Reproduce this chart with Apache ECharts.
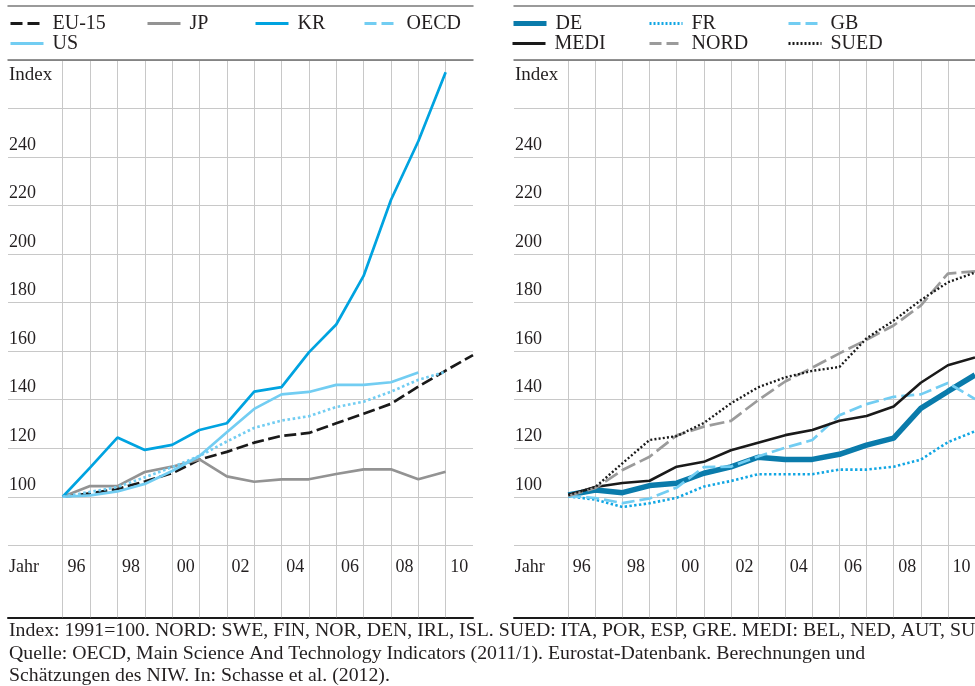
<!DOCTYPE html>
<html>
<head>
<meta charset="utf-8">
<script src="https://cdn.jsdelivr.net/npm/echarts@6/dist/echarts.min.js"></script>
<style>
html,body{margin:0;padding:0;background:#fff;}
#c{width:975px;height:686px;}
</style>
</head>
<body>
<div id="c"></div>
<script>
// ---- data ----
const years = [1995,1996,1997,1998,1999,2000,2001,2002,2003,2004,2005,2006,2007,2008,2009,2010];
const padYears = [1993,1994];
const cellLabels = [' Jahr','','96','','98','','00','','02','','04','','06','','08','','10'];
const yTickLabels = [100,120,140,160,180,200,220,240];

const EU15 = [100,101.4,103.2,106.3,109.7,115.3,118.5,122.3,125.1,126.3,130.3,134.2,138.3,145.4,152.0,158.4];
const JP   = [100,104.4,104.4,110.2,112.4,115.4,108.4,106.2,107.2,107.2,109.4,111.3,111.3,107.2,110.3,null];
const KR   = [100,112.0,124.4,119.3,121.4,127.5,130.3,143.3,145.2,159.5,171.0,191.0,222.3,246.5,275.0,null];
const OECD = [100,102.0,104.0,108.0,112.2,116.8,122.8,128.4,131.4,133.2,137.0,139.2,143.3,148.2,151.5,null];
const US   = [100,100.6,102.2,105.3,110.6,116.8,126.6,136.2,142.2,143.2,146.1,146.1,147.2,151.2,null,null];

const DE   = [100.7,102.8,101.7,104.6,105.6,109.7,112.3,116.3,115.4,115.4,117.5,121.3,124.2,136.4,143.4,150.2];
const FR   = [100.2,98.8,95.8,97.3,99.6,104.2,106.5,109.3,109.3,109.3,111.2,111.2,112.4,115.3,122.5,127.0];
const GB   = [100.3,99.5,97.4,99.3,103.8,112.2,112.4,116.6,120.2,123.4,133.6,138.2,141.2,142.2,146.9,140.3];
const MEDI = [100.7,104.0,105.7,106.6,112.4,114.4,119.2,122.3,125.4,127.5,131.3,133.3,137.2,147.0,154.2,157.4];
const NORD = [100.3,103.6,111.0,116.5,125.3,128.9,131.3,139.8,147.5,153.2,159.1,164.7,170.6,178.8,192.0,192.9];
const SUED = [100.7,104.0,113.8,123.4,125.0,130.4,138.5,145.1,149.2,151.9,153.5,165.3,172.6,181.0,188.4,192.4];

const footLines = [
  'Index: 1991=100. NORD: SWE, FIN, NOR, DEN, IRL, ISL. SUED: ITA, POR, ESP, GRE. MEDI: BEL, NED, AUT, SUI',
  'Quelle: OECD, Main Science And Technology Indicators (2011/1). Eurostat-Datenbank. Berechnungen und',
  'Schätzungen des NIW. In: Schasse et al. (2012).'
];

// ---- styles ----
const FONT = 'Liberation Serif';
const GRID_C = '#c8c8c8';
const TXT = '#231f20';
const axisCats = padYears.concat(years).map(String);
const showYear = (i, v) => (+v >= 1995 && +v <= 2009);

function xAxesFor(g) {
  return [
    { gridIndex: g, type: 'category', data: axisCats, boundaryGap: false, position: 'bottom',
      axisLine: {show: false}, axisLabel: {show: false},
      axisTick: {show: true, interval: showYear, length: 72, lineStyle: {color: GRID_C, width: 1}},
      splitLine: {show: true, interval: showYear, lineStyle: {color: GRID_C, width: 1}} },
    { gridIndex: g, type: 'category', boundaryGap: true, position: 'bottom', offset: 72,
      data: cellLabels,
      axisLine: {show: true, lineStyle: {color: '#1a1a1a', width: 2}},
      axisTick: {show: false}, splitLine: {show: false},
      axisLabel: {show: true, inside: true, interval: 0, margin: 50, verticalAlign: 'middle',
        fontFamily: FONT, fontSize: 18, color: TXT} },
    { gridIndex: g, type: 'category', data: axisCats, position: 'top', offset: 0,
      axisLine: {show: true, lineStyle: {color: '#6e6e6e', width: 1.5}},
      axisTick: {show: false}, axisLabel: {show: false}, splitLine: {show: false} },
    { gridIndex: g, type: 'category', data: axisCats, position: 'top', offset: 54.3,
      axisLine: {show: true, lineStyle: {color: '#7a7a7a', width: 1.5}},
      axisTick: {show: false}, axisLabel: {show: false}, splitLine: {show: false} }
  ];
}

function yAxisFor(g) {
  return { gridIndex: g, type: 'value', min: 80, max: 280, interval: 20,
    axisLine: {show: false}, axisTick: {show: false},
    splitLine: {lineStyle: {color: GRID_C, width: 1}},
    axisLabel: {inside: true, margin: 1, verticalAlign: 'bottom', padding: [0, 0, 3, 0],
      fontFamily: FONT, fontSize: 18, color: TXT,
      formatter: v => yTickLabels.indexOf(v) >= 0 ? String(v) : ''},
    name: 'Index', nameLocation: 'end', nameGap: -5.5,
    nameTextStyle: {align: 'left', verticalAlign: 'top', fontFamily: FONT, fontSize: 19, color: TXT, padding: [0, 0, 0, 1]}
  };
}

const seriesDefs = [
  {name: 'EU-15', vals: EU15, g: 0, color: '#1a1a1a', width: 2.7, type: [12, 4.5], legendType: [12, 5]},
  {name: 'JP',    vals: JP,   g: 0, color: '#939393', width: 2.7, type: 'solid'},
  {name: 'KR',    vals: KR,   g: 0, color: '#00a3e0', width: 2.7, type: 'solid'},
  {name: 'OECD',  vals: OECD, g: 0, color: '#72cdf2', width: 2.7, type: [2.6, 2.6], legendType: [12, 5]},
  {name: 'US',    vals: US,   g: 0, color: '#72cdf2', width: 2.7, type: 'solid'},
  {name: 'DE',    vals: DE,   g: 1, color: '#0a7bab', width: 5.5, type: 'solid'},
  {name: 'FR',    vals: FR,   g: 1, color: '#11a6e3', width: 2.6, type: [2.4, 2.4], legendType: [2, 2]},
  {name: 'GB',    vals: GB,   g: 1, color: '#72cdf2', width: 2.7, type: [13, 5], legendType: [12, 5]},
  {name: 'MEDI',  vals: MEDI, g: 1, color: '#1a1a1a', width: 2.6, type: 'solid'},
  {name: 'NORD',  vals: NORD, g: 1, color: '#9b9b9b', width: 2.7, type: [15, 5], legendType: [12, 5]},
  {name: 'SUED',  vals: SUED, g: 1, color: '#1a1a1a', width: 2.4, type: [2, 2.2], legendType: [2, 2]}
];

const legendPos = {
  'EU-15': [9, 0], 'JP': [146, 0], 'KR': [254, 0], 'OECD': [363, 0], 'US': [9, 1],
  'DE': [511, 0], 'FR': [648, 0], 'GB': [787, 0], 'MEDI': [511, 1], 'NORD': [648, 1], 'SUED': [787, 1]
};
const rowTop = [13.5, 33.5];

const series = seriesDefs.map(d => ({
  name: d.name, type: 'line', xAxisIndex: d.g * 4, yAxisIndex: d.g,
  data: years.map((y, i) => [String(y), d.vals[i]]),
  symbol: 'none', showSymbol: false, smooth: false, connectNulls: false,
  color: d.color,
  lineStyle: {color: d.color, width: d.width, type: d.type},
  emphasis: {disabled: true}, silent: true
}));

const legends = seriesDefs.map(d => ({
  left: legendPos[d.name][0], top: rowTop[legendPos[d.name][1]],
  data: [d.name], padding: 0, itemGap: 0, itemWidth: 33, itemHeight: 14,
  selectedMode: false,
  itemStyle: {color: 'rgba(0,0,0,0)', borderColor: 'rgba(0,0,0,0)', borderWidth: 0, opacity: 0},
  lineStyle: {width: d.name === 'DE' ? 5 : 3, type: d.legendType || d.type},
  textStyle: {fontFamily: FONT, fontSize: 20, color: TXT, lineHeight: 20, padding: [0, 0, 0, 4]}
}));

const graphics = footLines.map((t, i) => ({
  type: 'text', left: 9, top: [622, 645, 667][i], scaleX: 1.1, scaleY: 1,
  style: {text: t, font: '18px "' + FONT + '"', fill: TXT}
}));

const chart = echarts.init(document.getElementById('c'), null, {renderer: 'canvas'});
chart.setOption({
  animation: false,
  backgroundColor: '#ffffff',
  grid: [
    {left: 8, top: 60, width: 465, height: 485.3},
    {left: 514, top: 60, width: 465, height: 485.3}
  ],
  xAxis: xAxesFor(0).concat(xAxesFor(1)),
  yAxis: [yAxisFor(0), yAxisFor(1)],
  legend: legends,
  graphic: graphics,
  series: series
});
</script>
</body>
</html>
